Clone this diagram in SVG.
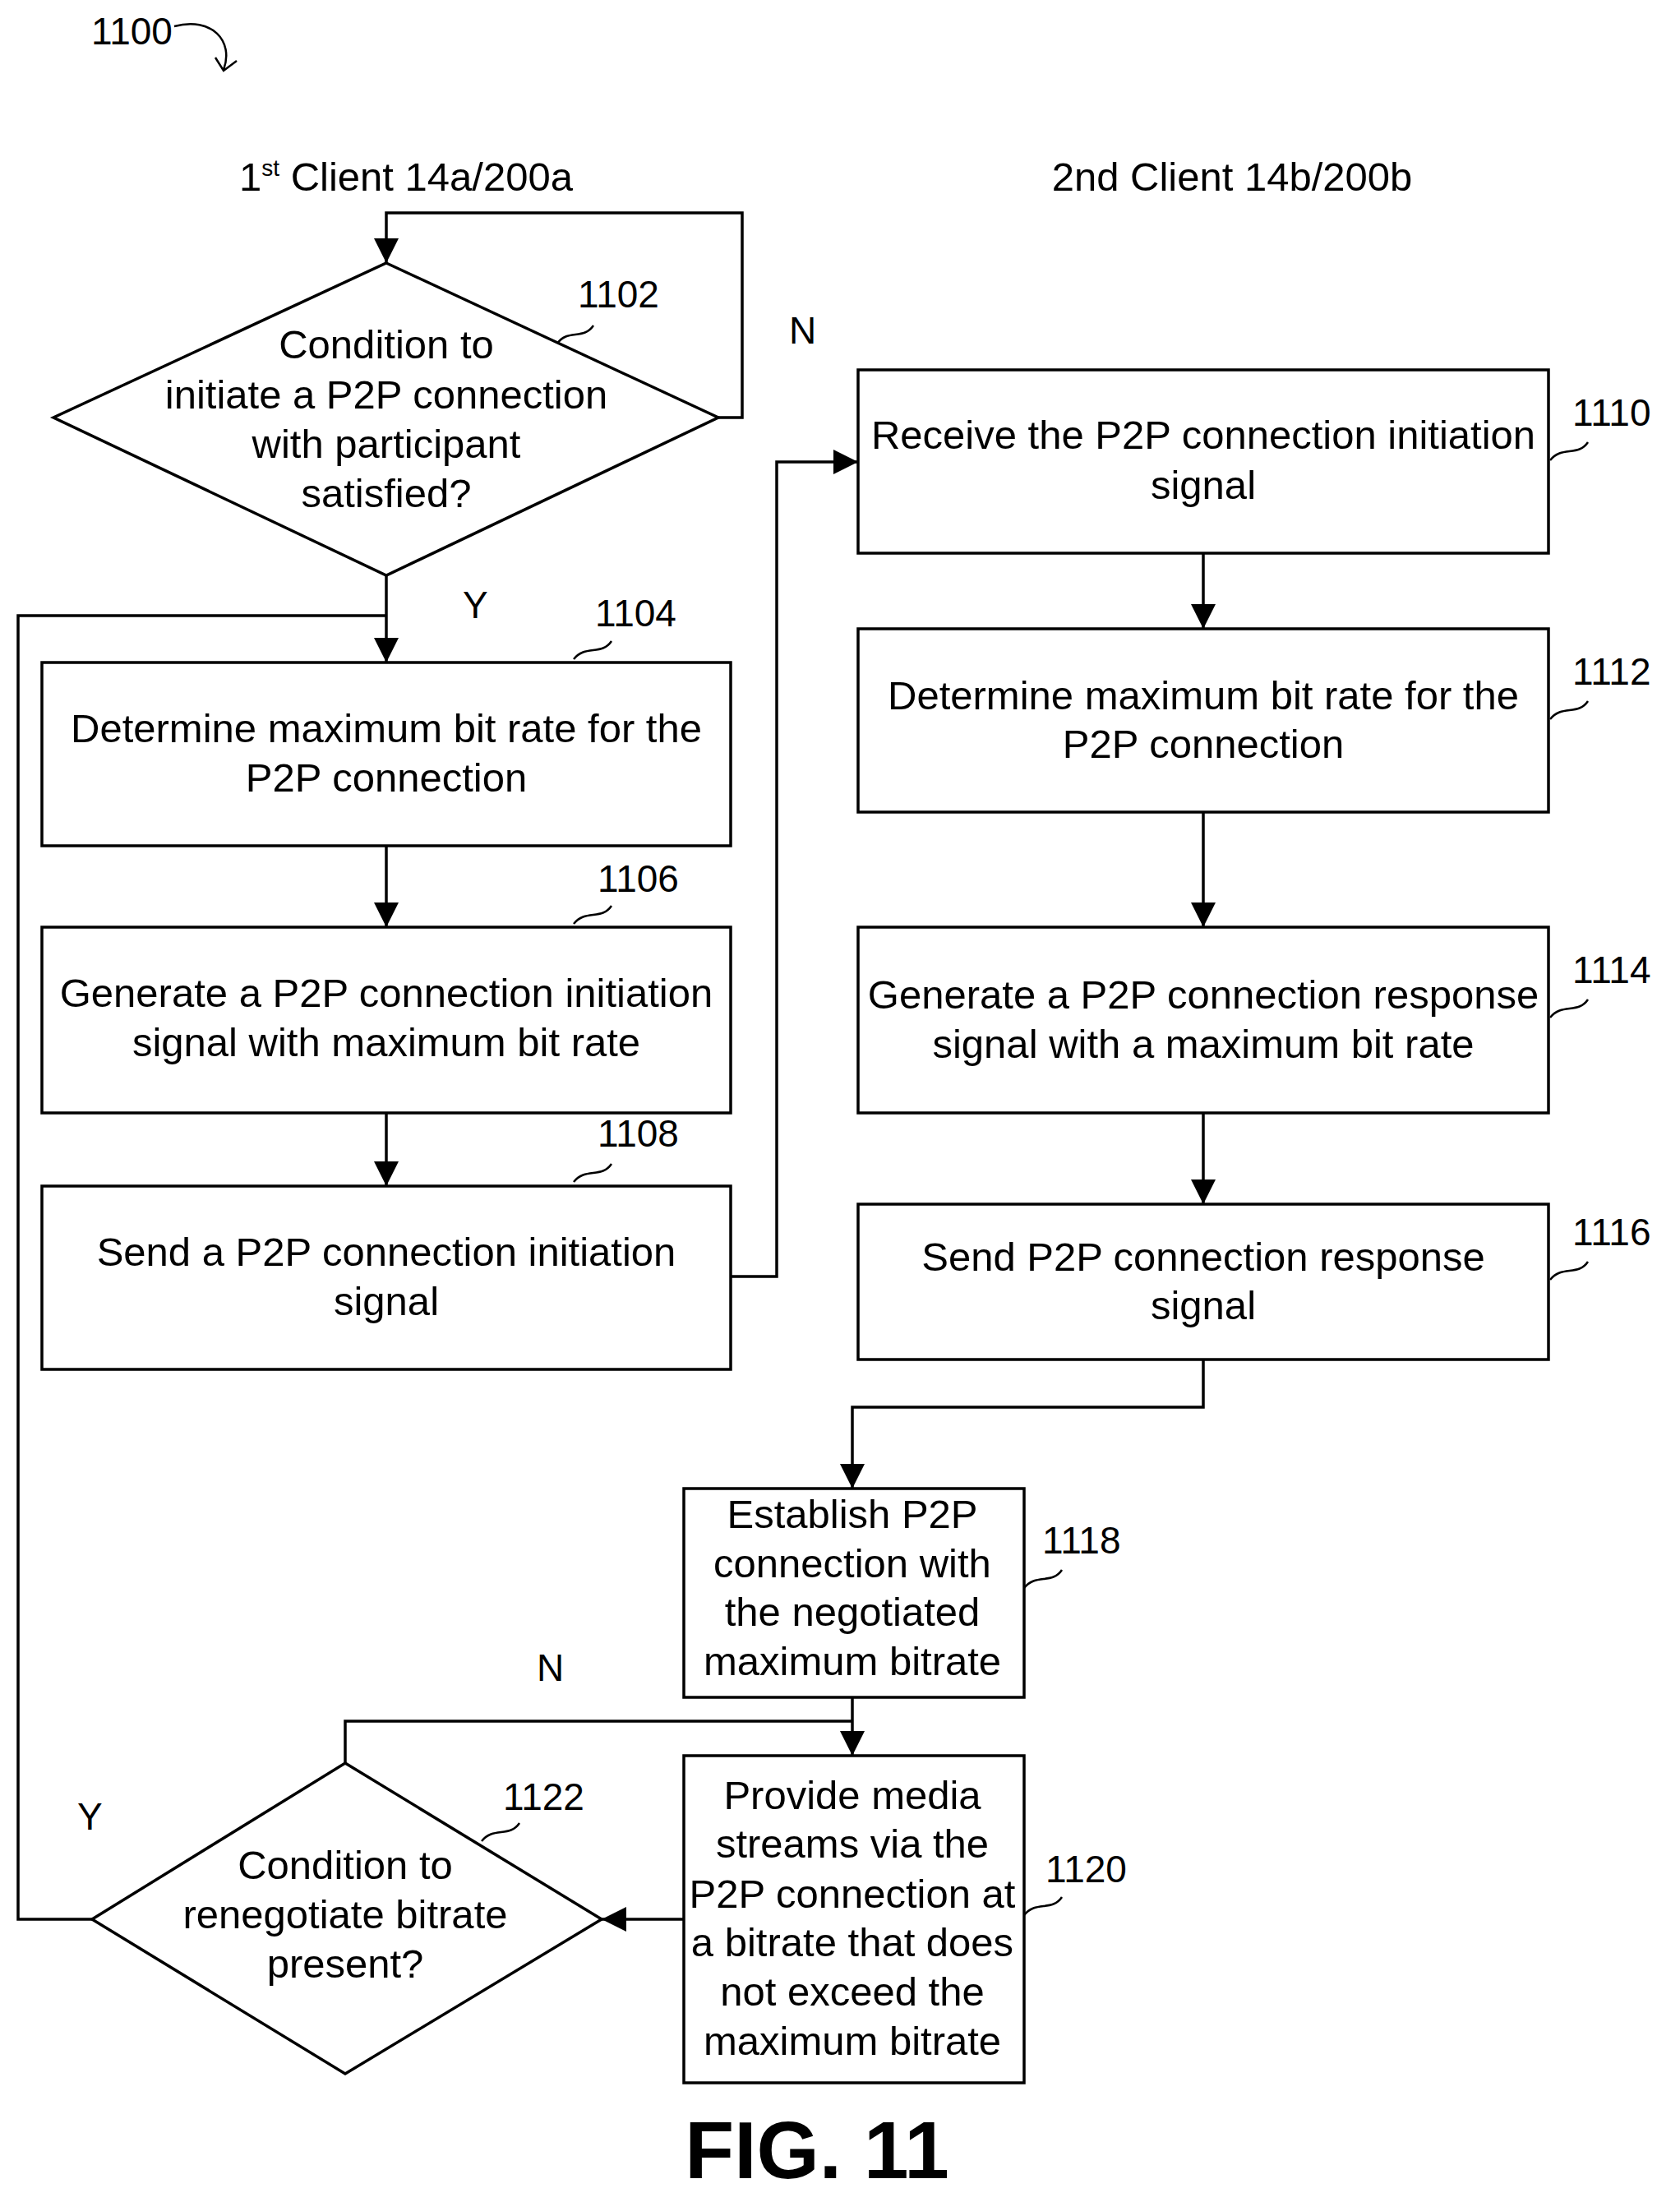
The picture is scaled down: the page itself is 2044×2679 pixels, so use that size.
<svg xmlns="http://www.w3.org/2000/svg" width="2044" height="2679" viewBox="0 0 2044 2679">
<style>
text{font-family:"Liberation Sans",Arial,sans-serif;font-size:49px;fill:#000}
.c{text-anchor:middle}
.n{font-size:46px}
.fig{font-size:98px;font-weight:bold}
.s{fill:#fff;stroke:#000;stroke-width:3.5}
.l{fill:none;stroke:#000;stroke-width:3.5}
.t{fill:none;stroke:#000;stroke-width:2.5}
</style>
<defs>
<marker id="b" viewBox="0 0 10 10" refX="10" refY="5" markerWidth="30" markerHeight="30" orient="auto" markerUnits="userSpaceOnUse"><path d="M0,0L10,5L0,10z"/></marker></defs>
<rect width="2044" height="2679" fill="#fff"/>
<text x="111" y="54" class="n">1100</text>
<path class="t" d="M212,32 C258,20 285,50 272,85 M262,70 L272,86 L288,74"/>
<text x="494" y="232" class="c">1<tspan dy="-18" font-size="28">st</tspan><tspan dy="18"> Client 14a/200a</tspan></text>
<text x="1499" y="232" class="c">2nd Client 14b/200b</text>
<g id="connectors">
<path class="l" marker-end="url(#b)" d="M874,508H903V259H470V320"/>
<path class="l" marker-end="url(#b)" d="M470,700V806"/>
<path class="l" d="M470,749H22V2335H112"/>
<path class="l" marker-end="url(#b)" d="M470,1029V1128"/>
<path class="l" marker-end="url(#b)" d="M470,1354V1443"/>
<path class="l" marker-end="url(#b)" d="M889,1553H945V562H1044"/>
<path class="l" marker-end="url(#b)" d="M1464,673V765"/>
<path class="l" marker-end="url(#b)" d="M1464,988V1128"/>
<path class="l" marker-end="url(#b)" d="M1464,1354V1465"/>
<path class="l" marker-end="url(#b)" d="M1464,1654V1712H1037V1811"/>
<path class="l" marker-end="url(#b)" d="M1037,2065V2136"/>
<path class="l" d="M1037,2094H420V2145"/>
<path class="l" marker-end="url(#b)" d="M832,2335H732"/>
<text x="960" y="418" class="n">N</text>
<text x="563" y="752" class="n">Y</text>
<text x="653" y="2045" class="n">N</text>
<text x="94" y="2226" class="n">Y</text>
</g>
<g id="n1102">
<path class="s" d="M470,320L874,508L470,700L65,508Z"/>
<text x="470" y="436" class="c">Condition to</text>
<text x="470" y="497" class="c">initiate a P2P connection</text>
<text x="470" y="557" class="c">with participant</text>
<text x="470" y="617" class="c">satisfied?</text>
<text x="703" y="374" class="n">1102</text>
<path class="t" d="M678,418C690,400 710,414 722,396"/>
</g>
<g id="n1104">
<rect class="s" x="51" y="806" width="838" height="223"/>
<text x="470" y="903" class="c">Determine maximum bit rate for the</text>
<text x="470" y="963" class="c">P2P connection</text>
<text x="724" y="762" class="n">1104</text>
<path class="t" d="M698,802C712,784 732,798 744,780"/>
</g>
<g id="n1106">
<rect class="s" x="51" y="1128" width="838" height="226"/>
<text x="470" y="1225" class="c">Generate a P2P connection initiation</text>
<text x="470" y="1285" class="c">signal with maximum bit rate</text>
<text x="727" y="1085" class="n">1106</text>
<path class="t" d="M698,1124C712,1106 732,1120 744,1102"/>
</g>
<g id="n1108">
<rect class="s" x="51" y="1443" width="838" height="223"/>
<text x="470" y="1540" class="c">Send a P2P connection initiation</text>
<text x="470" y="1600" class="c">signal</text>
<text x="727" y="1395" class="n">1108</text>
<path class="t" d="M698,1438C712,1420 732,1434 744,1416"/>
</g>
<g id="n1110">
<rect class="s" x="1044" y="450" width="840" height="223"/>
<text x="1464" y="546" class="c">Receive the P2P connection initiation</text>
<text x="1464" y="607" class="c">signal</text>
<text x="1913" y="518" class="n">1110</text>
<path class="t" d="M1886,560C1900,542 1920,556 1932,538"/>
</g>
<g id="n1112">
<rect class="s" x="1044" y="765" width="840" height="223"/>
<text x="1464" y="863" class="c">Determine maximum bit rate for the</text>
<text x="1464" y="922" class="c">P2P connection</text>
<text x="1913" y="833" class="n">1112</text>
<path class="t" d="M1886,875C1900,857 1920,871 1932,853"/>
</g>
<g id="n1114">
<rect class="s" x="1044" y="1128" width="840" height="226"/>
<text x="1464" y="1227" class="c">Generate a P2P connection response</text>
<text x="1464" y="1287" class="c">signal with a maximum bit rate</text>
<text x="1913" y="1196" class="n">1114</text>
<path class="t" d="M1886,1238C1900,1220 1920,1234 1932,1216"/>
</g>
<g id="n1116">
<rect class="s" x="1044" y="1465" width="840" height="189"/>
<text x="1464" y="1546" class="c">Send P2P connection response</text>
<text x="1464" y="1605" class="c">signal</text>
<text x="1913" y="1515" class="n">1116</text>
<path class="t" d="M1886,1557C1900,1539 1920,1553 1932,1535"/>
</g>
<g id="n1118">
<rect class="s" x="832" y="1811" width="414" height="254"/>
<text x="1037" y="1859" class="c">Establish P2P</text>
<text x="1037" y="1919" class="c">connection with</text>
<text x="1037" y="1978" class="c">the negotiated</text>
<text x="1037" y="2038" class="c">maximum bitrate</text>
<text x="1268" y="1890" class="n">1118</text>
<path class="t" d="M1246,1932C1260,1914 1280,1928 1292,1910"/>
</g>
<g id="n1120">
<rect class="s" x="832" y="2136" width="414" height="398"/>
<text x="1037" y="2201" class="c">Provide media</text>
<text x="1037" y="2260" class="c">streams via the</text>
<text x="1037" y="2321" class="c">P2P connection at</text>
<text x="1037" y="2380" class="c">a bitrate that does</text>
<text x="1037" y="2440" class="c">not exceed the</text>
<text x="1037" y="2500" class="c">maximum bitrate</text>
<text x="1272" y="2290" class="n">1120</text>
<path class="t" d="M1246,2330C1260,2312 1280,2326 1292,2308"/>
</g>
<g id="n1122">
<path class="s" d="M420,2145L732,2335L420,2523L112,2335Z"/>
<text x="420" y="2286" class="c">Condition to</text>
<text x="420" y="2346" class="c">renegotiate bitrate</text>
<text x="420" y="2406" class="c">present?</text>
<text x="612" y="2202" class="n">1122</text>
<path class="t" d="M586,2240C600,2222 620,2236 632,2218"/>
</g>
<text x="994" y="2650" class="c fig">FIG. 11</text>
</svg>
